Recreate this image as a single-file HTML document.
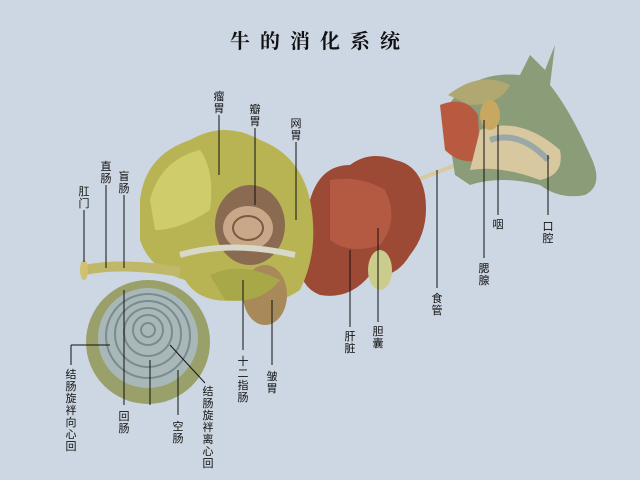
<!DOCTYPE html>
<html><head><meta charset="utf-8"><style>
body{margin:0;width:640px;height:480px;overflow:hidden;background:#cdd7e3}
svg{display:block}
text{font-family:"Liberation Sans","Noto Sans CJK SC",sans-serif;fill:#111}
.t{font-size:11px}
</style></head><body>
<svg width="640" height="480" viewBox="0 0 640 480">
<rect width="640" height="480" fill="#cdd7e3"/>
<text x="320" y="48" text-anchor="middle" style="font-size:20px;font-weight:bold;letter-spacing:10px;font-family:'Noto Serif CJK SC','Noto Sans CJK SC',serif">牛的消化系统</text>
<!-- esophagus -->
<path d="M350 210 Q400 185 470 160" stroke="#d9c9a0" stroke-width="4" fill="none"/>
<!-- cow head -->
<path d="M445 110 Q470 70 520 75 L530 55 L545 70 L555 45 L550 85 Q570 110 590 155 Q605 185 585 195 Q560 200 540 185 Q500 175 470 185 L455 175 Z" fill="#8a9c78"/>
<path d="M448 95 Q480 70 510 85 Q500 105 470 105 Z" fill="#b0a870"/>
<path d="M440 105 Q465 95 478 115 L480 160 Q460 165 445 150 Z" fill="#b85a40"/>
<path d="M480 130 Q520 115 560 150 Q565 175 540 180 Q500 165 470 170 Z" fill="#d8c8a0"/>
<path d="M490 140 Q520 130 548 160" stroke="#9aa8a8" stroke-width="6" fill="none"/>
<ellipse cx="490" cy="115" rx="10" ry="15" fill="#c8a860"/>
<!-- liver -->
<path d="M310 200 Q320 165 350 165 Q370 150 395 160 Q420 165 425 195 Q430 230 410 255 Q395 280 370 275 Q350 300 320 295 Q295 285 300 250 Z" fill="#9c4a35"/>
<path d="M330 180 Q360 175 385 190 Q400 220 380 245 Q350 255 330 240 Z" fill="#b55a42"/>
<ellipse cx="380" cy="270" rx="12" ry="20" fill="#c9cc8a"/>
<!-- rumen -->
<path d="M140 200 Q145 155 190 140 Q225 120 260 140 Q300 155 310 200 Q320 250 300 290 Q270 310 240 300 Q200 305 185 280 Q150 270 140 240 Z" fill="#b8b454"/>
<path d="M150 200 Q160 160 200 150 Q215 170 210 210 Q180 230 155 230 Z" fill="#cfcc6a"/>
<ellipse cx="250" cy="225" rx="35" ry="40" fill="#8a6a50"/>
<ellipse cx="248" cy="228" rx="25" ry="22" fill="#c8a888"/>
<ellipse cx="248" cy="228" rx="15" ry="12" fill="none" stroke="#7a5a40" stroke-width="2"/>
<ellipse cx="265" cy="295" rx="22" ry="30" fill="#a88a5a"/>
<path d="M180 255 Q230 240 295 255" stroke="#d8d8c8" stroke-width="6" fill="none"/>
<path d="M210 275 Q240 260 280 280 Q260 305 225 300 Z" fill="#a8a848"/>
<!-- rectum -->
<path d="M85 270 Q120 262 180 272" stroke="#c0b868" stroke-width="10" fill="none"/>
<ellipse cx="84" cy="270" rx="4" ry="10" fill="#d0c070"/>
<!-- coil -->
<circle cx="148" cy="342" r="62" fill="#9aa06a"/>
<circle cx="148" cy="338" r="50" fill="#a8b8b8"/>
<g fill="none" stroke="#7a8a90" stroke-width="2">
<circle cx="148" cy="336" r="42"/><circle cx="148" cy="334" r="33"/><circle cx="148" cy="332" r="24"/><circle cx="148" cy="330" r="15"/><circle cx="148" cy="330" r="7"/>
</g>
<!-- leader lines -->
<g stroke="#111" stroke-width="1">
<line x1="219" y1="115" x2="219" y2="175"/>
<line x1="255" y1="128" x2="255" y2="205"/>
<line x1="296" y1="142" x2="296" y2="220"/>
<line x1="106" y1="185" x2="106" y2="268"/>
<line x1="124" y1="195" x2="124" y2="268"/>
<line x1="84" y1="210" x2="84" y2="262"/>
<line x1="437" y1="170" x2="437" y2="288"/>
<line x1="484" y1="120" x2="484" y2="258"/>
<line x1="498" y1="125" x2="498" y2="215"/>
<line x1="548" y1="155" x2="548" y2="215"/>
<line x1="378" y1="228" x2="378" y2="322"/>
<line x1="350" y1="250" x2="350" y2="327"/>
<line x1="272" y1="300" x2="272" y2="365"/>
<line x1="243" y1="280" x2="243" y2="350"/>
<line x1="71" y1="345" x2="71" y2="365"/><line x1="71" y1="345" x2="110" y2="345"/>
<line x1="124" y1="290" x2="124" y2="405"/>
<line x1="150" y1="360" x2="150" y2="405"/>
<line x1="178" y1="370" x2="178" y2="415"/>
<line x1="170" y1="345" x2="205" y2="383"/>
</g>
<g class="t" text-anchor="middle">
<text x="219" y="100">瘤</text><text x="219" y="112">胃</text>
<text x="255" y="113">瓣</text><text x="255" y="125">胃</text>
<text x="296" y="127">网</text><text x="296" y="139">胃</text>
<text x="106" y="170">直</text><text x="106" y="182">肠</text>
<text x="124" y="180">盲</text><text x="124" y="192">肠</text>
<text x="84" y="195">肛</text><text x="84" y="207">门</text>
<text x="498" y="228">咽</text>
<text x="548" y="230">口</text><text x="548" y="242">腔</text>
<text x="484" y="272">腮</text><text x="484" y="284">腺</text>
<text x="437" y="302">食</text><text x="437" y="314">管</text>
<text x="378" y="335">胆</text><text x="378" y="347">囊</text>
<text x="350" y="340">肝</text><text x="350" y="352">脏</text>
<text x="272" y="380">皱</text><text x="272" y="392">胃</text>
<text x="243" y="365">十</text><text x="243" y="377">二</text><text x="243" y="389">指</text><text x="243" y="401">肠</text>
<text x="71" y="378">结</text><text x="71" y="390">肠</text><text x="71" y="402">旋</text><text x="71" y="414">袢</text><text x="71" y="426">向</text><text x="71" y="438">心</text><text x="71" y="450">回</text>
<text x="124" y="420">回</text><text x="124" y="432">肠</text>
<text x="178" y="430">空</text><text x="178" y="442">肠</text>
<text x="208" y="395">结</text><text x="208" y="407">肠</text><text x="208" y="419">旋</text><text x="208" y="431">袢</text><text x="208" y="443">离</text><text x="208" y="455">心</text><text x="208" y="467">回</text>
</g>
</svg>
</body></html>
